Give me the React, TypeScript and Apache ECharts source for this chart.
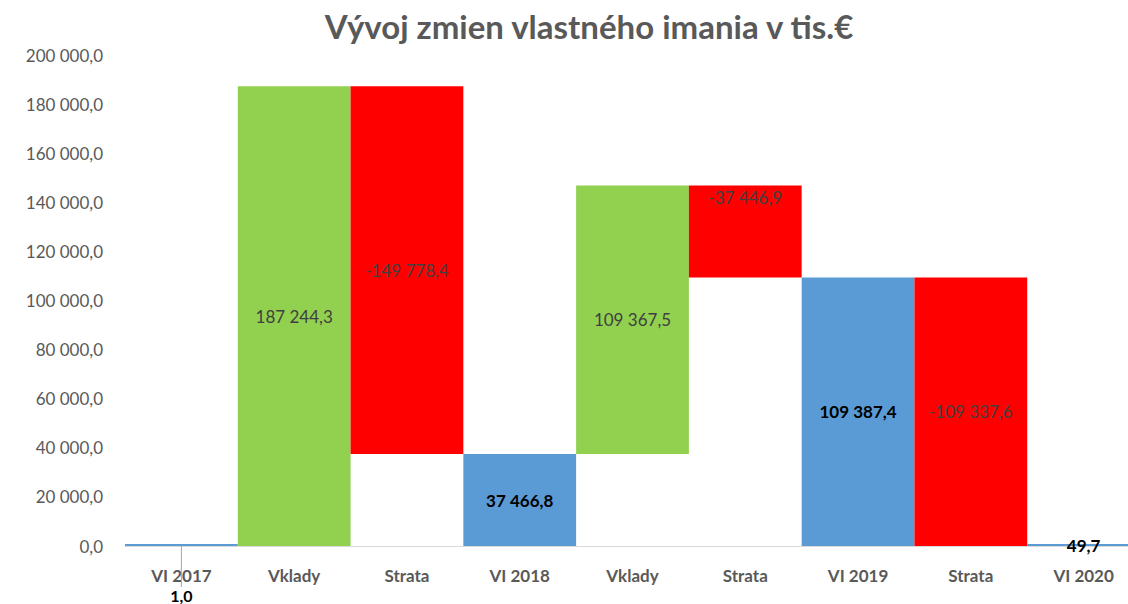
import React, { useEffect, useRef } from "react";
import * as echarts from "echarts";

const titleText = "Vývoj zmien vlastného imania v tis.€";
const categories = ["VI 2017", "Vklady", "Strata", "VI 2018", "Vklady", "Strata", "VI 2019", "Strata", "VI 2020"];
const changes = [1.0, 187244.3, -149778.4, 37466.8, 109367.5, -37446.9, 109387.4, -109337.6, 49.7];
const kinds = ["total", "up", "down", "total", "up", "down", "total", "down", "total"];
const yTicks = { min: 0, max: 200000, interval: 20000 };

const COLORS: Record<string, string> = { total: "#5B9BD5", up: "#92D050", down: "#FF0000" };
const FONT = "Lato";

function fmt(v: number): string {
  const neg = v < 0;
  const s = Math.abs(v).toFixed(1);
  const [i, d] = s.split(".");
  const grouped = i.replace(/\B(?=(\d{3})+(?!\d))/g, " ");
  return (neg ? "-" : "") + grouped + "," + d;
}

// label placement (styling only)
const labelStyle = [
  { position: "bottom", offset: [0, 0], distance: 8, fontSize: 16 },
  { position: "inside", offset: [0, 0] },
  { position: "inside", offset: [0, 0] },
  { position: "inside", offset: [0, 15] },
  { position: "inside", offset: [0, -23] },
  { position: "insideTop", offset: [0, 4] },
  { position: "inside", offset: [0, -22] },
  { position: "inside", offset: [0, 0] },
  { position: "inside", offset: [0, 2] },
];

export default function App() {
  const ref = useRef<HTMLDivElement>(null);
  useEffect(() => {
    if (!ref.current) return;
    const chart = echarts.init(ref.current, undefined, { renderer: "svg" });

    let level = 0;
    const base: number[] = [];
    const heights: number[] = [];
    changes.forEach((v, i) => {
      const k = kinds[i];
      if (k === "total") {
        base.push(0);
        heights.push(v);
        level = v;
      } else if (k === "up") {
        base.push(level);
        heights.push(v);
        level += v;
      } else {
        level += v;
        base.push(level);
        heights.push(-v);
      }
    });

    const visData = heights.map((h, i) => {
      const k = kinds[i];
      const isTotal = k === "total";
      const ls: any = labelStyle[i];
      return {
        value: h,
        itemStyle: { color: COLORS[k] },
        label: {
          show: true,
          position: ls.position,
          offset: ls.offset,
          distance: ls.distance ?? 5,
          formatter: fmt(changes[i]),
          color: isTotal ? "#000000" : "#404040",
          fontWeight: isTotal ? "bold" : "normal",
          fontSize: ls.fontSize ?? 17,
          lineHeight: 14,
          fontFamily: FONT,
        },
        labelLine: i === 0 ? { show: true, lineStyle: { color: "#A6A6A6", width: 1 } } : { show: false },
      };
    });

    chart.setOption({
      animation: false,
      title: {
        text: titleText,
        left: 584,
        textAlign: "center",
        top: 4,
        textStyle: { fontFamily: FONT, fontSize: 33, fontWeight: "bold", color: "#595959" },
      },
      grid: { left: 125, right: 0, top: 55, bottom: 58, containLabel: false },
      xAxis: {
        type: "category",
        data: categories,
        axisTick: { show: false },
        axisLine: { lineStyle: { color: "#D9D9D9", width: 1 } },
        axisLabel: {
          interval: 0,
          margin: 22,
          color: "#595959",
          fontWeight: "bold",
          fontSize: 17,
          lineHeight: 14,
          fontFamily: FONT,
        },
      },
      yAxis: {
        type: "value",
        min: yTicks.min,
        max: yTicks.max,
        interval: yTicks.interval,
        splitLine: { show: false },
        axisLine: { show: false },
        axisTick: { show: false },
        axisLabel: {
          margin: 22,
          color: "#595959",
          fontSize: 17,
          fontFamily: FONT,
          formatter: (v: number) => fmt(v),
        },
      },
      series: [
        {
          type: "bar",
          stack: "wf",
          data: base,
          itemStyle: { color: "transparent" },
          emphasis: { disabled: true },
          silent: true,
          barCategoryGap: "0%",
        },
        {
          type: "bar",
          stack: "wf",
          data: visData,
          barCategoryGap: "0%",
          barMinHeight: 2,
          labelLayout: (p: any) => (p.dataIndex === 0 ? { dy: 34 } : {}),
        },
      ],
    });
    return () => chart.dispose();
  }, []);
  return (
    <div style={{ position: "fixed", left: 0, top: 0, width: 1128, height: 604, overflow: "hidden", background: "#fff" }}>
      <div ref={ref} style={{ width: 1140, height: 604 }} />
    </div>
  );
}
